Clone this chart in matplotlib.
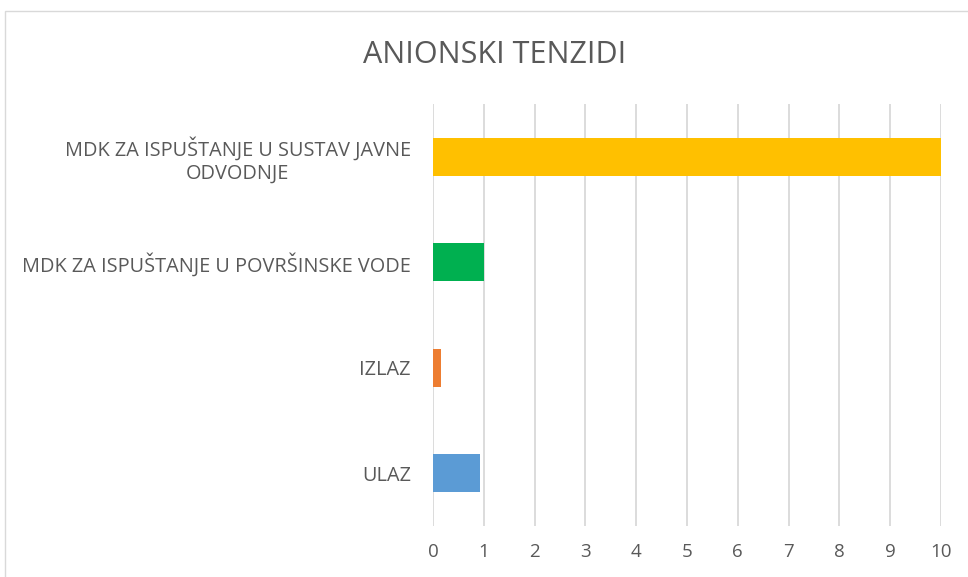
import matplotlib.pyplot as plt
from matplotlib.patches import Rectangle

# data, bottom to top
categories = ["ULAZ", "IZLAZ", "MDK ZA ISPUŠTANJE U POVRŠINSKE VODE",
              "MDK ZA ISPUŠTANJE U SUSTAV JAVNE\nODVODNJE"]
values = [0.93, 0.15, 1.0, 10.0]
colors = ["#5B9BD5", "#ED7D31", "#00B050", "#FFC000"]
x_ticks = list(range(0, 11))

plt.rcParams['font.family'] = ['Open Sans', 'DejaVu Sans']
text_color = "#595959"

fig = plt.figure(figsize=(9.68, 5.77), dpi=100)
ax = fig.add_axes([433 / 968, 1 - 526 / 577, 508 / 968, 422 / 577])

ax.barh(range(len(categories)), values, height=0.36, color=colors, zorder=2)

ax.set_xlim(0, 10)
ax.set_ylim(-0.5, len(categories) - 0.5)
ax.set_xticks(x_ticks)
ax.set_yticks(range(len(categories)))
ax.set_yticklabels(categories, multialignment='center', fontsize=14.3)
ax.tick_params(axis='both', length=0, colors=text_color)
ax.tick_params(axis='x', labelsize=13.5, pad=12)
ax.tick_params(axis='y', pad=16)
ax.grid(axis='x', color="#D9D9D9", linewidth=1.3, zorder=0)
for s in ax.spines.values():
    s.set_visible(False)

fig.text(495 / 968, 1 - 55 / 577, "ANIONSKI TENZIDI", ha='center', va='center',
         fontsize=22, color=text_color)

# chart border
fig.patches.append(Rectangle((5 / 968, -0.01), 1.0, 1 - 11 / 577 + 0.01,
                             transform=fig.transFigure, fill=False,
                             edgecolor="#D9D9D9", linewidth=1))

fig.savefig("out.png", dpi=100)
